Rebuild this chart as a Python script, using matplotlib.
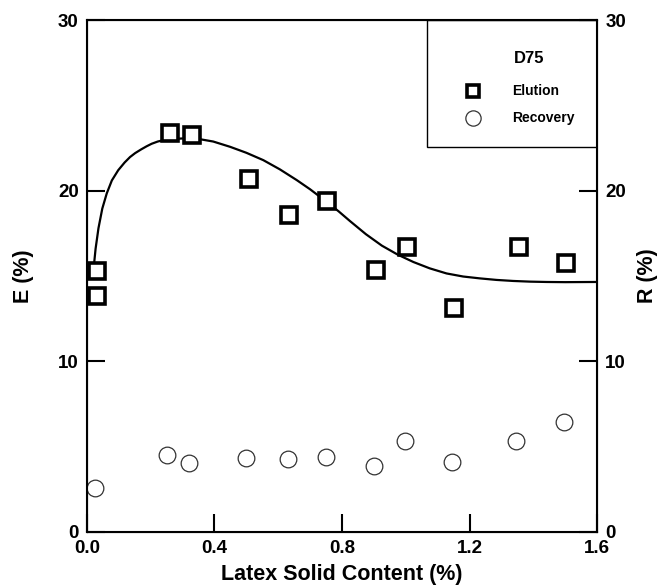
import matplotlib
matplotlib.use("Agg")
import matplotlib.pyplot as plt

# data
elution_x = [0.03, 0.03, 0.26, 0.33, 0.507, 0.635, 0.752, 0.907, 1.003, 1.151, 1.354, 1.502]
elution_y = [15.3, 13.8, 23.36, 23.24, 20.7, 18.6, 19.4, 15.35, 16.71, 13.14, 16.68, 15.78]

recovery_x = [0.025, 0.252, 0.321, 0.499, 0.63, 0.75, 0.90, 0.998, 1.146, 1.346, 1.497]
recovery_y = [2.56, 4.49, 4.02, 4.35, 4.28, 4.4, 3.87, 5.35, 4.08, 5.33, 6.43]

# fitted curve
fit_x = [0.02, 0.027, 0.036, 0.048, 0.062, 0.078, 0.098, 0.118, 0.135, 0.151, 0.170,
         0.187, 0.203, 0.222, 0.24, 0.27, 0.30, 0.344, 0.396, 0.449, 0.50, 0.553,
         0.605, 0.658, 0.700, 0.731, 0.752, 0.790, 0.825, 0.875, 0.925, 0.975,
         1.024, 1.075, 1.128, 1.180, 1.233, 1.285, 1.337, 1.390, 1.442, 1.50, 1.594]
fit_y = [15.3, 16.6, 17.8, 18.95, 19.84, 20.6, 21.2, 21.65, 21.97, 22.2, 22.42,
         22.6, 22.75, 22.88, 22.96, 23.03, 23.06, 23.05, 22.88, 22.57, 22.22, 21.79,
         21.25, 20.62, 20.08, 19.64, 19.35, 18.78, 18.22, 17.45, 16.78, 16.25,
         15.82, 15.45, 15.15, 14.97, 14.86, 14.77, 14.71, 14.67, 14.65, 14.64, 14.65]

x_ticks = [0.0, 0.4, 0.8, 1.2, 1.6]
y_ticks = [0, 10, 20, 30]

plt.rcParams['font.family'] = ['Liberation Sans', 'DejaVu Sans']
plt.rcParams['font.weight'] = 'bold'

fig = plt.figure(figsize=(6.61, 5.87), dpi=100)
ax = fig.add_axes([0.1316, 0.0937, 0.7716, 0.8722])

ax.plot(fit_x, fit_y, color='black', lw=1.6, zorder=2)
ax.plot(elution_x, elution_y, 's', ms=11, mfc='white', mec='black', mew=2.6, zorder=3)
ax.plot(recovery_x, recovery_y, 'o', ms=12, mfc='white', mec='#333333', mew=0.9, zorder=3)

ax.set_xlim(0, 1.6)
ax.set_ylim(0, 30)
ax.set_xticks(x_ticks)
ax.set_yticks(y_ticks)
ax.set_xticklabels([f"{v:.1f}" for v in x_ticks], fontsize=13.5, fontweight='bold')
ax.set_yticklabels([str(v) for v in y_ticks], fontsize=13.5, fontweight='bold')
ax.tick_params(direction='in', length=13, width=1.5, pad=6)
ax.tick_params(axis='x', pad=6)
for s in ax.spines.values():
    s.set_linewidth(1.5)

ax.set_xlabel('Latex Solid Content (%)', fontsize=15.5, fontweight='bold', labelpad=5)
ax.set_ylabel('E (%)', fontsize=15.5, fontweight='bold', labelpad=17)

ax2 = ax.twinx()
ax2.set_ylim(0, 30)
ax2.set_yticks(y_ticks)
ax2.set_yticklabels([str(v) for v in y_ticks], fontsize=13.5, fontweight='bold')
ax2.tick_params(direction='in', length=13, width=1.5, pad=6)
ax2.set_ylabel('R (%)', fontsize=15.5, fontweight='bold', rotation=90, labelpad=8)

# legend box drawn by hand
ax.add_patch(plt.Rectangle((0.667, 0.752), 0.333, 0.248, transform=ax.transAxes,
                           fill=False, ec='black', lw=1.0, zorder=4))
ax.text(0.867, 0.924, 'D75', transform=ax.transAxes, fontsize=12,
        fontweight='bold', ha='center', va='center')
ax.plot([0.757], [0.862], 's', transform=ax.transAxes, ms=9, mfc='white',
        mec='black', mew=2.6, clip_on=False)
ax.text(0.833, 0.862, 'Elution', transform=ax.transAxes, fontsize=10,
        fontweight='bold', ha='left', va='center')
ax.plot([0.757], [0.808], 'o', transform=ax.transAxes, ms=11, mfc='white',
        mec='#333333', mew=0.9, clip_on=False)
ax.text(0.833, 0.808, 'Recovery', transform=ax.transAxes, fontsize=10,
        fontweight='bold', ha='left', va='center')

fig.savefig('out.png', dpi=100)
